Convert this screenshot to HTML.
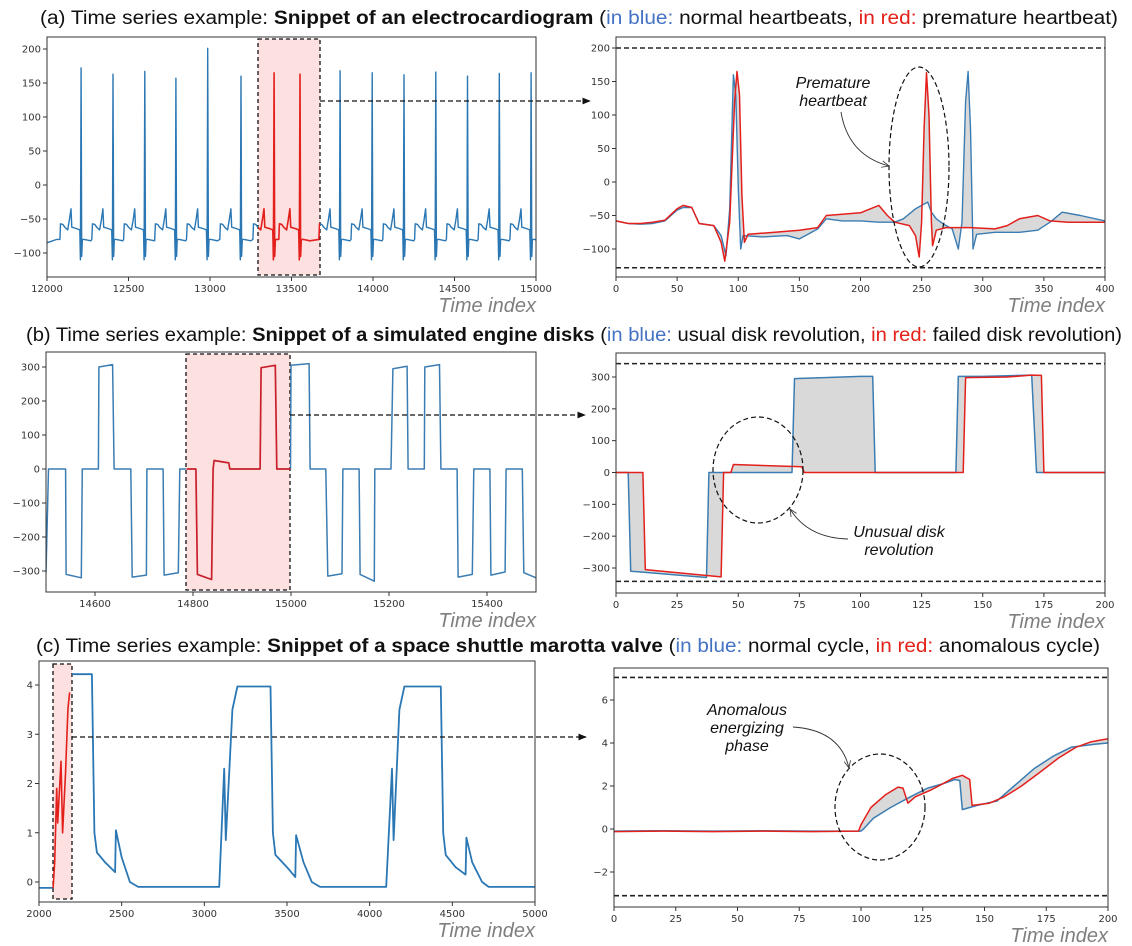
<!DOCTYPE html>
<html><head><meta charset="utf-8"><style>
html,body{margin:0;padding:0;background:#fff}
svg{display:block;font-family:"DejaVu Sans","Liberation Sans",sans-serif}
.tl{font-size:10px;fill:#333}
.ti{font-family:"Liberation Sans",sans-serif;font-style:italic;font-size:20px;fill:#7f7f7f}
.ttl{font-family:"Liberation Sans",sans-serif;font-size:19px;fill:#111}
.ann{font-family:"Liberation Sans",sans-serif;font-style:italic;font-size:16px;fill:#111}
</style></head><body>
<svg id="fig" width="1132" height="946" viewBox="0 0 1132 946" xmlns="http://www.w3.org/2000/svg">
<defs>
<marker id="ah" viewBox="0 0 10 10" refX="9" refY="5" markerWidth="7" markerHeight="7" orient="auto"><path d="M0,1 L10,5 L0,9 z" fill="#111"/></marker>
<marker id="oh" viewBox="0 0 10 10" refX="9" refY="5" markerWidth="9" markerHeight="9" orient="auto"><path d="M0,1 L9,5 L0,9" fill="none" stroke="#333" stroke-width="1"/></marker>
</defs>
<text class="ttl" x="40" y="24" textLength="1078" lengthAdjust="spacingAndGlyphs">(a) Time series example: <tspan font-weight="bold">Snippet of an electrocardiogram</tspan> (<tspan fill="#4472c4">in blue:</tspan> normal heartbeats, <tspan fill="#e32119">in red:</tspan> premature heartbeat)</text>
<text class="ttl" x="26" y="341" textLength="1096" lengthAdjust="spacingAndGlyphs">(b) Time series example: <tspan font-weight="bold">Snippet of a simulated engine disks</tspan> (<tspan fill="#4472c4">in blue:</tspan> usual disk revolution, <tspan fill="#e32119">in red:</tspan> failed disk revolution)</text>
<text class="ttl" x="36" y="652" textLength="1064" lengthAdjust="spacingAndGlyphs">(c) Time series example: <tspan font-weight="bold">Snippet of a space shuttle marotta valve</tspan> (<tspan fill="#4472c4">in blue:</tspan> normal cycle, <tspan fill="#e32119">in red:</tspan> anomalous cycle)</text>
<g id="layer"></g>
</svg>
<script>
// ---- data: (a) ECG overview ----
const ecgBeatTimes = [12209,12405,12600,12791,12986,13190,13393,13552,13798,13995,14190,14385,14580,14775,14970];
const ecgBeatPeaks = [172,163,167,157,201,160,165,163,168,165,162,166,160,164,165];
const ecgTplOffsets = [-130,-126,-112,-100,-82,-72,-62,-57,-30,-8,-4,0,4,8,20,60];
const ecgTplValues = [-80,-57,-58,-62,-66,-52,-35,-62,-64,-66,-110,null,-105,-80,-80,-82];
// ---- (a) zoom ----
const aZoomBlueX = [0,10,20,30,40,50,55,62,68,80,86,90,93,96,98,100,102,104,120,140,150,155,165,172,185,200,215,228,235,245,255,258,262,268,275,280,283,286,288,290,292,295,310,330,345,355,365,380,400];
const aZoomBlueY = [-58,-62,-63,-62,-58,-42,-38,-38,-62,-65,-80,-110,-40,160,130,-10,-100,-80,-82,-80,-85,-80,-70,-55,-58,-58,-60,-60,-55,-40,-30,-45,-55,-63,-70,-100,-60,120,165,80,-100,-78,-75,-75,-72,-60,-45,-50,-58];
const aZoomRedX = [0,10,20,30,40,50,55,62,68,80,86,89,93,97,99,101,103,105,108,130,150,165,172,185,200,215,222,228,240,245,248,250,252,254,256,258,259,262,270,290,310,320,330,345,355,370,400];
const aZoomRedY = [-58,-62,-62,-60,-57,-40,-35,-38,-62,-65,-90,-118,-60,120,165,130,-20,-90,-78,-75,-72,-68,-50,-48,-46,-35,-50,-60,-65,-80,-112,-60,80,163,100,-60,-95,-72,-68,-68,-70,-65,-55,-50,-58,-60,-60];
// ---- (b) engine disks overview ----
const bBlueT = [14500,14505,14540,14541,14572,14574,14607,14608,14636,14639,14673,14676,14705,14706,14739,14741,14770,14773,14787,14999,15000,15037,15039,15071,15075,15104,15106,15139,15141,15170,15171,15204,15208,15237,15239,15272,15273,15303,15306,15339,15341,15370,15373,15406,15408,15437,15439,15472,15475,15500];
const bBlueV = [-305,0,0,-310,-320,0,0,300,307,0,0,-318,-312,0,0,-312,-305,0,0,0,305,310,0,0,-315,-308,0,0,-310,-330,0,0,295,302,0,0,300,307,0,0,-318,-310,0,0,-312,-303,0,0,-305,-320];
const bRedT = [14787,14806,14809,14838,14841,14843,14873,14875,14937,14939,14968,14971,14999];
const bRedV = [0,0,-310,-325,0,25,18,0,0,298,305,0,0];
// ---- (b) zoom ----
const bZoomBlueX = [0,5,6,37,38,72,73,100,105,106,139,140,150,165,170,172,200];
const bZoomBlueY = [0,0,-310,-330,0,0,295,302,302,0,0,302,302,305,306,0,0];
const bZoomRedX = [0,11,12,43,44,47,48,76,77,142,143,160,170,174,175,200];
const bZoomRedY = [0,0,-305,-328,0,0,25,18,0,0,298,300,306,305,0,0];
// ---- (c) marotta valve overview ----
const cBlueT = [2000,2090,2185,2196,2320,2335,2350,2400,2460,2465,2500,2550,2600,3090,3120,3130,3170,3200,3400,3415,3430,3500,3550,3555,3600,3650,3700,4100,4135,4145,4180,4210,4430,4445,4460,4520,4580,4585,4620,4680,4720,5000];
const cBlueV = [-0.12,-0.12,3.85,4.22,4.22,1.0,0.6,0.4,0.2,1.05,0.5,0.0,-0.1,-0.1,2.3,0.85,3.5,3.97,3.97,1.0,0.55,0.3,0.1,0.95,0.4,0.0,-0.1,-0.1,2.3,0.85,3.5,3.97,3.97,1.0,0.55,0.3,0.15,0.9,0.4,0.0,-0.1,-0.1];
const cRedT = [2085,2095,2107,2113,2133,2143,2160,2175,2185];
const cRedV = [-0.12,0.4,1.9,1.2,2.45,1.0,2.2,3.5,3.85];
// ---- (c) zoom ----
const cZoomBlueX = [0,20,40,60,80,100,101,105,112,120,127,133,138,140,141,147,155,162,170,178,185,195,200];
const cZoomBlueY = [-0.1,-0.08,-0.1,-0.08,-0.1,-0.1,0.0,0.5,1.0,1.5,1.9,2.1,2.3,2.25,0.9,1.1,1.3,2.0,2.8,3.4,3.8,3.95,4.0];
const cZoomRedX = [0,20,40,60,80,99,100,104,110,115,117,119,122,128,133,137,141,144,145,152,158,165,172,180,187,193,200];
const cZoomRedY = [-0.12,-0.1,-0.12,-0.1,-0.12,-0.1,0.2,1.0,1.6,1.95,1.9,1.2,1.5,1.8,2.1,2.35,2.5,2.3,1.1,1.2,1.5,2.0,2.6,3.3,3.8,4.05,4.2];

const NS = "http://www.w3.org/2000/svg";
const layer = document.getElementById('layer');
const BLUE = "#2a77b4", BLUE2 = "#3b7db3", RED = "#e3201c";
function mk(tag, attrs, parent) {
  const e = document.createElementNS(NS, tag);
  for (const k in attrs) e.setAttribute(k, attrs[k]);
  (parent || layer).appendChild(e);
  return e;
}
function lin(d0, d1, p0, p1) { return v => p0 + (v - d0) * (p1 - p0) / (d1 - d0); }
function fmt(v) { return v < 0 ? "\u2212" + Math.abs(v) : String(v); }
function pathFrom(xs, ys, sx, sy) {
  return xs.map((x, i) => (i ? "L" : "M") + sx(x).toFixed(1) + "," + sy(ys[i]).toFixed(1)).join(" ");
}
function axes(name, f, sx, sy, xt, yt) {
  const g = mk('g', {});
  
  
  const fr = mk('rect', {x: f.x0, y: f.y0, width: f.x1 - f.x0, height: f.y1 - f.y0, fill: "none", stroke: "#333", "stroke-width": 1}, g);
  
  
  xt.forEach(v => {
    const x = sx(v);
    mk('line', {x1: x, x2: x, y1: f.y1, y2: f.y1 + 4, stroke: "#333"}, g);
    const t = mk('text', {x: x, y: f.y1 + 15, "text-anchor": "middle", class: "tl"}, g);
    t.textContent = fmt(v);
    
    
  });
  yt.forEach(v => {
    const y = sy(v);
    mk('line', {x1: f.x0 - 4, x2: f.x0, y1: y, y2: y, stroke: "#333"}, g);
    const t = mk('text', {x: f.x0 - 6, y: y + 3.5, "text-anchor": "end", class: "tl"}, g);
    t.textContent = fmt(v);
    
    
  });
  const ti = mk('text', {x: f.x1, y: f.y1 + 35, "text-anchor": "end", class: "ti"}, g);
  ti.textContent = "Time index";
  
  
  return g;
}
function line(name, xs, ys, sx, sy, color, w, clip) {
  const p = mk('path', {d: pathFrom(xs, ys, sx, sy), fill: "none", stroke: color, "stroke-width": w, "stroke-linejoin": "round"});
  if (clip) p.setAttribute('clip-path', clip);
  
  
  return p;
}
function between(name, xa, ya, xb, yb, sx, sy) {
  const d = pathFrom(xa, ya, sx, sy) + " " + xb.slice().reverse().map((x, i) => "L" + sx(x).toFixed(1) + "," + sy(yb[yb.length - 1 - i]).toFixed(1)).join(" ") + " Z";
  const p = mk('path', {d: d, fill: "#d9d9d9", "fill-rule": "evenodd", stroke: "none"});
  
  
}
function hdash(name, x0, x1, y) {
  const l = mk('line', {x1: x0, x2: x1, y1: y, y2: y, stroke: "#222", "stroke-width": 1.6, "stroke-dasharray": "5,3"});
  
  
}
function box(name, x0, y0, x1, y1) {
  const r = mk('rect', {x: x0, y: y0, width: x1 - x0, height: y1 - y0, fill: "#fde0e0", stroke: "#111", "stroke-width": 1.3, "stroke-dasharray": "4,3"});
  
  
}
function arrow(name, x0, x1, y) {
  const l = mk('line', {x1: x0, x2: x1, y1: y, y2: y, stroke: "#111", "stroke-width": 1.2, "stroke-dasharray": "5,3", "marker-end": "url(#ah)"});
  
  
}
function ell(name, cx, cy, rx, ry) {
  const e = mk('ellipse', {cx: cx, cy: cy, rx: rx, ry: ry, fill: "none", stroke: "#111", "stroke-width": 1.2, "stroke-dasharray": "5,3"});
  
  
}
function curve(name, d) {
  const p = mk('path', {d: d, fill: "none", stroke: "#333", "stroke-width": 0.9, "marker-end": "url(#oh)"});
  
  
}
function ann(name, lines, cx, y0, dy) {
  const t = mk('text', {class: "ann", "text-anchor": "middle"});
  
  
  lines.forEach((s, i) => { const ts = mk('tspan', {x: cx, y: y0 + i * dy}, t); ts.textContent = s; });
}
const defs = document.querySelector('defs');
function clipRect(id, x0, y0, x1, y1) { const c = mk('clipPath', {id: id}, defs); mk('rect', {x: x0, y: y0, width: x1 - x0, height: y1 - y0}, c); }
function clipOutside(id, x0, x1, bx0, bx1, y0, y1) {
  const c = mk('clipPath', {id: id}, defs);
  mk('rect', {x: x0, y: y0, width: bx0 - x0, height: y1 - y0}, c);
  mk('rect', {x: bx1, y: y0, width: x1 - bx1, height: y1 - y0}, c);
}

// ===== (a) left =====
{
  const f = {x0: 47, x1: 536, y0: 37, y1: 277};
  const sx = lin(12000, 15000, 47, 536), sy = lin(0, 200, 185, 49);
  box('highlight-box-a', 258, 39, 320, 275);
  const T = [12000, 12060], V = [-85, -80];
  ecgBeatTimes.forEach((bt, i) => {
    const next = i + 1 < ecgBeatTimes.length ? ecgBeatTimes[i + 1] : 99999;
    ecgTplOffsets.forEach((o, k) => {
      const t = bt + o;
      if (t <= T[T.length - 1]) return;
      if (o > 0 && t >= next + ecgTplOffsets[0]) return;
      T.push(t); V.push(ecgTplValues[k] === null ? ecgBeatPeaks[i] : ecgTplValues[k]);
    });
  });
  clipOutside('cpa', 47, 536, 258, 320, 30, 280);
  clipRect('cpared', 258, 30, 320, 280);
  line('ecg-series-blue', T, V, sx, sy, BLUE, 1.4, 'url(#cpa)');
  line('ecg-series-red', T, V, sx, sy, RED, 1.6, 'url(#cpared)');
  axes('ecg-overview-axes', f, sx, sy, [12000,12500,13000,13500,14000,14500,15000], [-100,-50,0,50,100,150,200]);
  arrow('zoom-arrow-a', 320, 590, 101);
}
// ===== (a) right =====
{
  const f = {x0: 616, x1: 1105, y0: 37, y1: 277};
  const sx = lin(0, 400, 616, 1105), sy = lin(0, 200, 182, 48);
  between('fill-diff-a', aZoomBlueX, aZoomBlueY, aZoomRedX, aZoomRedY, sx, sy);
  line('ecg-zoom-blue', aZoomBlueX, aZoomBlueY, sx, sy, BLUE2, 1.4);
  line('ecg-zoom-red', aZoomRedX, aZoomRedY, sx, sy, RED, 1.5);
  hdash('threshold-upper-a', 616, 1105, sy(200));
  hdash('threshold-lower-a', 616, 1105, sy(-128));
  axes('ecg-zoom-axes', f, sx, sy, [0,50,100,150,200,250,300,350,400], [-100,-50,0,50,100,150,200]);
  ell('anomaly-ellipse-a', 919, 167, 30, 100);
  ann('annotation-premature-heartbeat', ['Premature', 'heartbeat'], 833, 88, 18);
  curve('annotation-arrow-a', 'M841,112 Q848,155 889,166');
}
// ===== (b) left =====
{
  const f = {x0: 46, x1: 536, y0: 352, y1: 592};
  const sx = lin(14500, 15500, 46, 536), sy = lin(0, 300, 469, 367);
  box('highlight-box-b', 186, 354, 290, 590);
  clipOutside('cpb', 46, 536, 186, 290, 340, 600);
  line('disk-series-blue', bBlueT, bBlueV, sx, sy, BLUE2, 1.5, 'url(#cpb)');
  line('disk-series-red', bRedT, bRedV, sx, sy, "#c8202a", 1.7);
  axes('disk-overview-axes', f, sx, sy, [14600,14800,15000,15200,15400], [-300,-200,-100,0,100,200,300]);
  arrow('zoom-arrow-b', 290, 585, 415);
}
// ===== (b) right =====
{
  const f = {x0: 616, x1: 1105, y0: 353, y1: 593};
  const sx = lin(0, 200, 616, 1105), sy = lin(0, 300, 472.5, 377);
  between('fill-diff-b', bZoomBlueX, bZoomBlueY, bZoomRedX, bZoomRedY, sx, sy);
  line('disk-zoom-blue', bZoomBlueX, bZoomBlueY, sx, sy, BLUE2, 1.5);
  line('disk-zoom-red', bZoomRedX, bZoomRedY, sx, sy, RED, 1.5);
  hdash('threshold-upper-b', 616, 1105, sy(342));
  hdash('threshold-lower-b', 616, 1105, sy(-342));
  axes('disk-zoom-axes', f, sx, sy, [0,25,50,75,100,125,150,175,200], [-300,-200,-100,0,100,200,300]);
  ell('anomaly-ellipse-b', 758, 470, 45, 53);
  ann('annotation-unusual-disk', ['Unusual disk', 'revolution'], 899, 537, 18);
  curve('annotation-arrow-b', 'M848,539 Q808,538 790,509');
}
// ===== (c) left =====
{
  const f = {x0: 39, x1: 535, y0: 661, y1: 902};
  const sx = lin(2000, 5000, 39, 535), sy = lin(0, 4, 882, 685);
  box('highlight-box-c', 53, 664, 72, 899);
  clipOutside('cpc', 39, 535, 53, 72, 650, 910);
  line('valve-series-blue', cBlueT, cBlueV, sx, sy, BLUE, 1.8, 'url(#cpc)');
  line('valve-series-red', cRedT, cRedV, sx, sy, RED, 1.6);
  axes('valve-overview-axes', f, sx, sy, [2000,2500,3000,3500,4000,4500,5000], [0,1,2,3,4]);
  arrow('zoom-arrow-c', 72, 586, 737);
}
// ===== (c) right =====
{
  const f = {x0: 614, x1: 1108, y0: 668, y1: 907};
  const sx = lin(0, 200, 614, 1108), sy = lin(0, 2, 829, 786);
  between('fill-diff-c', cZoomBlueX, cZoomBlueY, cZoomRedX, cZoomRedY, sx, sy);
  line('valve-zoom-blue', cZoomBlueX, cZoomBlueY, sx, sy, BLUE2, 1.5);
  line('valve-zoom-red', cZoomRedX, cZoomRedY, sx, sy, RED, 1.5);
  hdash('threshold-upper-c', 614, 1108, sy(7.05));
  hdash('threshold-lower-c', 614, 1108, sy(-3.1));
  axes('valve-zoom-axes', f, sx, sy, [0,25,50,75,100,125,150,175,200], [-2,0,2,4,6]);
  ell('anomaly-ellipse-c', 880, 807, 45, 53);
  ann('annotation-anomalous-energizing', ['Anomalous', 'energizing', 'phase'], 747, 715, 18);
  curve('annotation-arrow-c', 'M793,727 Q840,730 849,768');
}
</script>
</body></html>
